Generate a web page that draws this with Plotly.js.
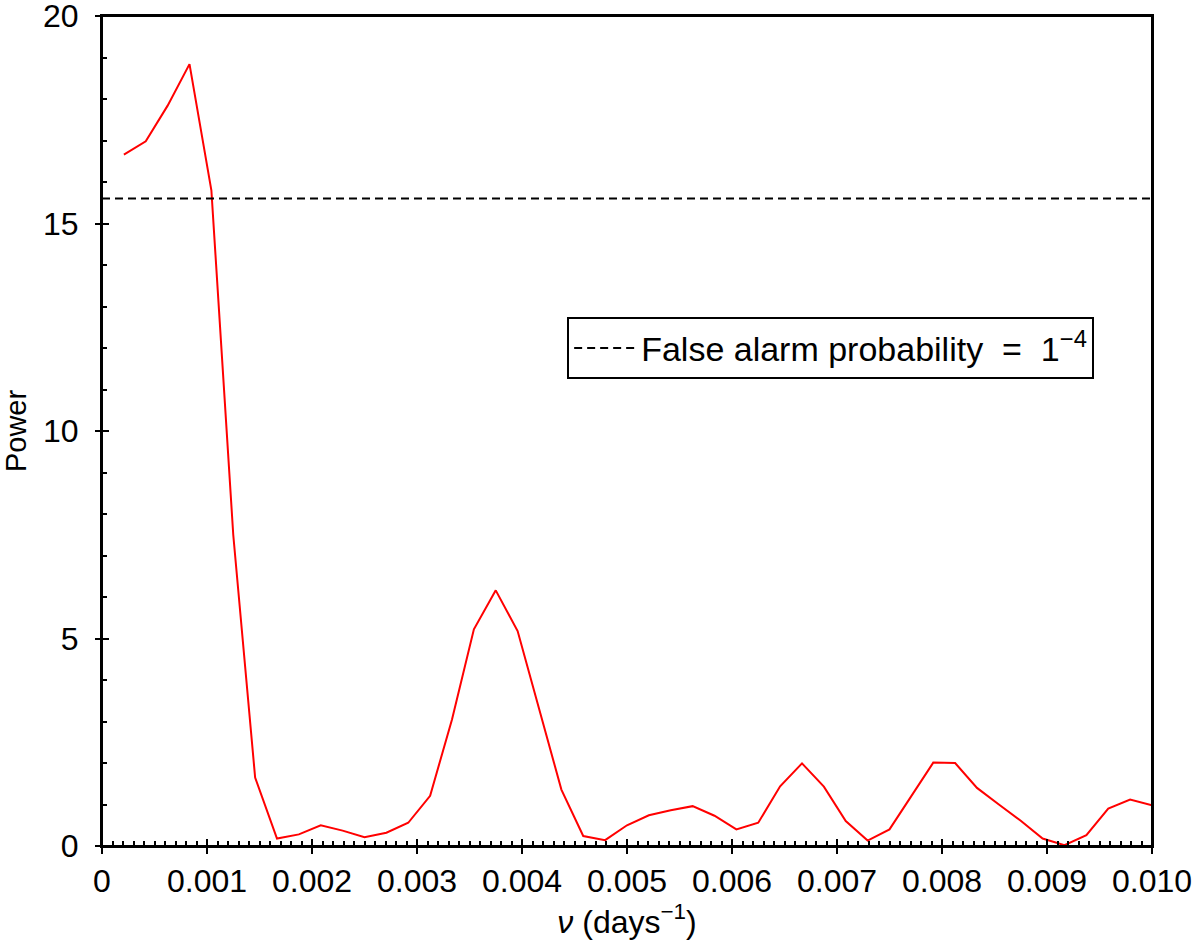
<!DOCTYPE html>
<html>
<head>
<meta charset="utf-8">
<script src="https://cdn.plot.ly/plotly-3.0.1.min.js"></script>
<style>html,body{margin:0;padding:0;background:#fff;}</style>
</head>
<body>
<div id="chart" style="width:1200px;height:949px;"></div>
<script>
// frequencies k/4800 days^-1, k = 1..48
const harmonicIndex = [1,2,3,4,5,6,7,8,9,10,11,12,13,14,15,16,17,18,19,20,21,22,23,24,25,26,27,28,29,30,31,32,33,34,35,36,37,38,39,40,41,42,43,44,45,46,47,48];
const baseFrequency = 1/4800;
const power = [16.66,16.98,17.84,18.84,15.80,7.50,1.65,0.18,0.28,0.50,0.37,0.21,0.32,0.56,1.21,3.05,5.22,6.16,5.18,3.29,1.36,0.24,0.14,0.50,0.74,0.86,0.96,0.73,0.40,0.56,1.44,1.99,1.43,0.60,0.13,0.40,1.19,2.01,2.00,1.40,1.00,0.61,0.18,0.02,0.26,0.90,1.12,0.98];
const falseAlarmLevel = 15.60;
const xRange = [0, 0.010];
const yRange = [0, 20];
const xTickVals = [0,0.001,0.002,0.003,0.004,0.005,0.006,0.007,0.008,0.009,0.010];
const xTickText = ["0","0.001","0.002","0.003","0.004","0.005","0.006","0.007","0.008","0.009","0.010"];
const yTickVals = [0,5,10,15,20];
const yTickText = ["0","5","10","15","20"];

const nu = harmonicIndex.map(k => k*baseFrequency);

const FONT = "Liberation Sans, Arial, sans-serif";

const traces = [
  {x: nu, y: power, type:'scatter', mode:'lines', line:{color:'#ff0000', width:2}, showlegend:false, hoverinfo:'x+y'},
  {x: xRange, y: [falseAlarmLevel, falseAlarmLevel], type:'scatter', mode:'lines',
   line:{color:'#000', width:2, dash:'8px,5px'}, name:'False alarm probability\u00a0 =\u00a0 1<sup>−4</sup>', showlegend:true},
  // invisible trace on overlay axes for inner major ticks
  {x: xRange, y: yRange, xaxis:'x2', yaxis:'y2', mode:'markers', marker:{opacity:0}, showlegend:false, hoverinfo:'skip'}
];

const layout = {
  width:1200, height:949,
  margin:{l:102, r:48, t:16, b:102.5},
  paper_bgcolor:'#fff', plot_bgcolor:'#fff',
  font:{family:FONT, color:'#000', size:32},
  showlegend:true,
  legend:{x:0.443, y:0.637, xanchor:'left', yanchor:'top', bgcolor:'#fff', bordercolor:'#000', borderwidth:2,
          font:{family:FONT, size:34}, itemwidth:62, tracegroupgap:0},
  shapes:[{type:'rect', xref:'paper', yref:'paper', x0:0, x1:1, y0:0, y1:1, line:{color:'#000', width:2}, layer:'above'}],
  xaxis:{range:xRange, tickmode:'array', tickvals:xTickVals, ticktext:xTickText,
         showgrid:false, zeroline:false, showline:true, linecolor:'#000', linewidth:2, mirror:true,
         ticks:'outside', ticklen:6, tickwidth:2, tickcolor:'#000', tickfont:{size:32, family:FONT},
         ticklabeloverflow:'allow',
         minor:{ticks:'inside', dtick:0.0001, ticklen:5, tickwidth:2, tickcolor:'#000', showgrid:false},
         title:{text:'<i>ν</i> (days<sup>−1</sup>)', font:{size:32, family:FONT}, standoff:10}},
  yaxis:{range:yRange, tickmode:'array', tickvals:yTickVals, ticktext:yTickText,
         showgrid:false, zeroline:false, showline:true, linecolor:'#000', linewidth:2, mirror:true,
         ticks:'outside', ticklen:5, tickwidth:2, tickcolor:'#000', tickfont:{size:32, family:FONT},
         ticklabelstandoff:10, ticklabeloverflow:'allow',
         minor:{ticks:'inside', dtick:1, ticklen:5, tickwidth:2, tickcolor:'#000', showgrid:false},
         title:{text:'Power', font:{size:29, family:FONT}, standoff:12}},
  xaxis2:{overlaying:'x', matches:'x', range:xRange, tickmode:'array', tickvals:xTickVals, showticklabels:false,
          ticks:'inside', ticklen:7, tickwidth:2, tickcolor:'#000', showgrid:false, zeroline:false, showline:false},
  yaxis2:{overlaying:'y', range:yRange, tickmode:'array', tickvals:yTickVals, showticklabels:false,
          ticks:'inside', ticklen:7, tickwidth:2, tickcolor:'#000', showgrid:false, zeroline:false, showline:false}
};

Plotly.newPlot('chart', traces, layout, {displayModeBar:false, staticPlot:true});
</script>
</body>
</html>
